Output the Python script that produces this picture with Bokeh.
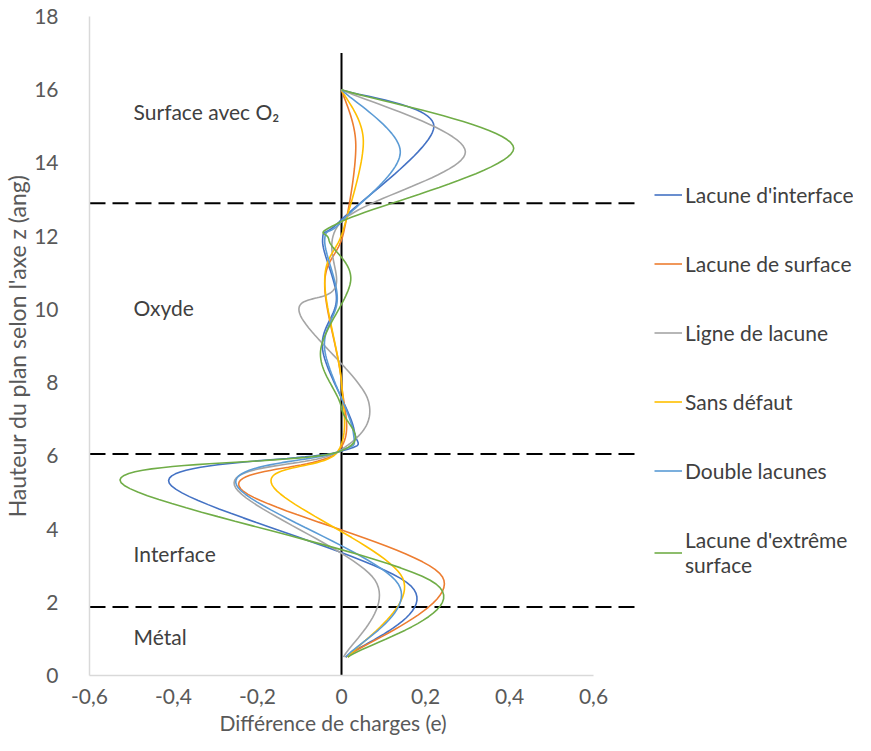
import numpy as np
from bokeh.plotting import figure
from bokeh.models import (Range1d, FixedTicker, Label, Legend, LegendItem, Title)
from bokeh.embed import file_html
from bokeh.resources import INLINE

# ---------------- data ----------------
series_names = ["Lacune d'interface", "Lacune de surface", "Ligne de lacune",
                "Sans défaut", "Double lacunes", "Lacune d'extrême\nsurface"]

z_interface = [0.5, 2.45, 5.25, 6.1, 6.7, 8.9, 10.3, 11.9, 12.45, 15.0, 16.0]
q_interface = [0.01, 0.165, -0.41, -0.01, 0.03, -0.045, -0.012, -0.045, 0.0, 0.22, 0.0]

z_surface = [0.5, 2.7, 5.1, 6.1, 8.0, 10.7, 12.1, 14.5, 16.0]
q_surface = [0.01, 0.24, -0.24, -0.01, 0.0, -0.04, 0.005, 0.034, 0.0]

z_ligne = [0.5, 2.6, 5.2, 6.1, 7.5, 9.9, 10.6, 12.4, 14.3, 16.0]
q_ligne = [0.005, 0.08, -0.255, -0.01, 0.064, -0.10, -0.015, 0.0, 0.295, 0.0]

z_sans = [0.5, 2.65, 5.2, 6.1, 8.0, 10.8, 12.2, 14.6, 16.0]
q_sans = [0.015, 0.146, -0.165, -0.01, 0.0, -0.04, 0.005, 0.052, 0.0]

z_double = [0.5, 2.5, 5.2, 6.1, 6.65, 8.9, 10.3, 11.9, 12.4, 14.3, 16.0]
q_double = [0.01, 0.135, -0.25, -0.01, 0.028, -0.04, -0.01, -0.04, 0.0, 0.14, 0.0]

z_extreme = [0.5, 2.5, 5.27, 6.1, 7.3, 8.85, 10.8, 11.9, 12.4, 14.4, 16.0]
q_extreme = [0.015, 0.225, -0.525, -0.01, 0.0, -0.05, 0.022, -0.03, 0.0, 0.41, 0.0]

boundaries = [12.9, 6.05, 1.87]
zero_line_top = 17
region_names = ["Surface avec O\u2082", "Oxyde", "Interface", "Métal"]

x_ticks = [-0.6, -0.4, -0.2, 0, 0.2, 0.4, 0.6]
x_tick_labels = ["-0,6", "-0,4", "-0,2", "0", "0,2", "0,4", "0,6"]
y_ticks = [0, 2, 4, 6, 8, 10, 12, 14, 16, 18]

# ---------------- styles ----------------
colors = ["#4472C4", "#ED7D31", "#A5A5A5", "#FFC000", "#5B9BD5", "#70AD47"]
FONT = "Lato"
TXT = "#595959"
FS = "21px"


def smooth(xs, ys, n=24):
    """Excel-like smoothed line: cubic Bezier through points (Catmull-Rom tangents)."""
    pts = list(zip(xs, ys))
    N = len(pts)
    ox, oy = [], []
    for i in range(N - 1):
        p0 = pts[i - 1] if i > 0 else pts[i]
        p1 = pts[i]
        p2 = pts[i + 1]
        p3 = pts[i + 2] if i + 2 < N else pts[i + 1]
        c1 = (p1[0] + (p2[0] - p0[0]) / 6, p1[1] + (p2[1] - p0[1]) / 6)
        c2 = (p2[0] - (p3[0] - p1[0]) / 6, p2[1] - (p3[1] - p1[1]) / 6)
        ts = np.linspace(0, 1, n, endpoint=(i == N - 2))
        for t in ts:
            a = (1 - t) ** 3
            b = 3 * (1 - t) ** 2 * t
            c = 3 * (1 - t) * t ** 2
            d = t ** 3
            ox.append(a * p1[0] + b * c1[0] + c * c2[0] + d * p2[0])
            oy.append(a * p1[1] + b * c1[1] + c * c2[1] + d * p2[1])
    return ox, oy


p = figure(width=855, height=735, x_range=Range1d(-0.6, 1.219), y_range=Range1d(0, 18),
           output_backend="svg", toolbar_location=None,
           min_border_left=80, min_border_top=16, min_border_bottom=10, min_border_right=2)
p.outline_line_color = None
p.xgrid.visible = False
p.ygrid.visible = False
p.background_fill_color = "white"

# axes
for ax in (p.xaxis[0], p.yaxis[0]):
    ax.axis_line_color = "#D9D9D9"
    ax.axis_line_width = 1.5
    ax.major_tick_line_color = None
    ax.minor_tick_line_color = None
    ax.major_tick_in = 0
    ax.major_tick_out = 0
    ax.minor_tick_in = 0
    ax.minor_tick_out = 0
    ax.major_label_text_font = FONT
    ax.major_label_text_font_size = FS
    ax.major_label_text_color = TXT

p.xaxis.ticker = FixedTicker(ticks=x_ticks)
p.xaxis.major_label_overrides = {t: l for t, l in zip(x_ticks, x_tick_labels)}
p.xaxis.bounds = (-0.6, 0.6)
p.xaxis.major_label_standoff = 13

p.yaxis.ticker = FixedTicker(ticks=y_ticks)
p.yaxis.bounds = (0, 18)
p.yaxis.major_label_standoff = 31
p.yaxis.axis_label = "Hauteur du plan selon l'axe z (ang)"
p.yaxis.axis_label_text_font = FONT
p.yaxis.axis_label_text_font_size = "23px"
p.yaxis.axis_label_text_font_style = "normal"
p.yaxis.axis_label_text_color = TXT
p.yaxis.axis_label_standoff = 0

xt = Title(text="Différence de charges (e)", align="left", offset=130,
           text_font=FONT, text_font_size=FS, text_font_style="normal",
           text_color=TXT, standoff=2)
p.add_layout(xt, "below")

# boundaries (dashed, extending a bit past the last tick)
bx0, bx1 = -0.6, 0.711
p.segment(x0=[bx0] * len(boundaries), y0=boundaries, x1=[bx1] * len(boundaries), y1=boundaries,
          line_color="black", line_width=2, line_dash="16 7")

# zero line
p.line([0, 0], [0, zero_line_top], line_color="black", line_width=2)

# series
all_z = [z_interface, z_surface, z_ligne, z_sans, z_double, z_extreme]
all_q = [q_interface, q_surface, q_ligne, q_sans, q_double, q_extreme]
items = []
for name, zz, qq, col in zip(series_names, all_z, all_q, colors):
    sx, sy = smooth(qq, zz)
    r = p.line(sx, sy, line_color=col, line_width=1.6)
    items.append(LegendItem(label=name, renderers=[r]))

legend = Legend(items=items, location=(565, 98), orientation="vertical",
                glyph_width=28, glyph_height=25, label_height=25,
                label_standoff=3, spacing=44, padding=4, margin=0,
                label_text_font=FONT, label_text_font_size=FS,
                label_text_color="#404040",
                border_line_color=None, background_fill_alpha=0)
p.add_layout(legend)

# region labels
label_pos = [15.4, 10.06, 3.34, 1.06]
for name, yy in zip(region_names, label_pos):
    p.add_layout(Label(x=-0.495, y=yy, text=name, text_font=FONT, text_font_size=FS,
                       text_color="#404040", text_baseline="middle", text_align="left"))

open("out.html", "w").write(file_html(p, INLINE))
